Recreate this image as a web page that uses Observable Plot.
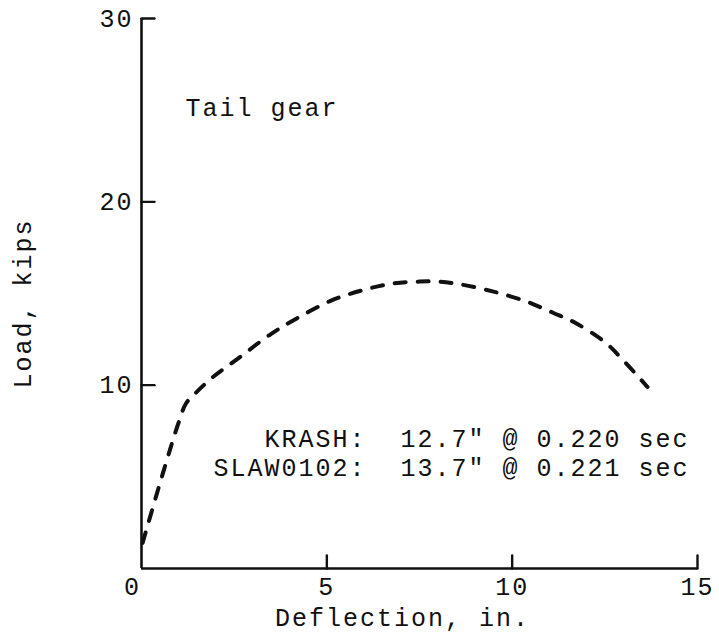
<!DOCTYPE html>
<html>
<head>
<meta charset="utf-8">
<script src="https://cdn.jsdelivr.net/npm/d3@7"></script>
<script src="https://cdn.jsdelivr.net/npm/@observablehq/plot@0.6"></script>
<style>
  html, body { margin: 0; padding: 0; background: #fff; }
  svg text { white-space: pre; }
</style>
</head>
<body>
<div id="chart"></div>
<script>
// Curve (deflection in inches, load in kips)
const deflection = [0.03, 0.6, 1.0, 1.2, 1.45, 1.9, 2.6, 3.5, 4.2, 5.1, 6.0, 6.8, 7.5, 8.0, 8.6, 9.5, 10.4, 11.1, 11.7, 12.5, 13.0, 13.65];
const load       = [1.4, 5.35, 7.95, 9.0, 9.55, 10.4, 11.45, 12.8, 13.65, 14.6, 15.2, 15.55, 15.65, 15.65, 15.5, 15.1, 14.55, 13.95, 13.4, 12.35, 11.35, 9.9];

const xTicks = [5, 10, 15];
const xZeroTick = [0];
const yTicks = [10, 20, 30];
const xDomain = [0, 15];
const yDomain = [0, 30];

const xLabel = "Deflection, in.";
const yLabel = "Load, kips";
const panelTitle = "Tail gear";
const noteLines = ["KRASH:  12.7\" @ 0.220 sec", "SLAW0102:  13.7\" @ 0.221 sec"];

const data = deflection.map((d, i) => ({x: d, y: load[i]}));
const font = "'Liberation Mono', 'Courier New', monospace";

// straight tick stroke drawn from the anchor along the vector direction
const tickShape = {draw(context, l) { context.moveTo(0, 0); context.lineTo(0, -l); }};

const chart = Plot.plot({
  width: 719,
  height: 638,
  marginLeft: 141,
  marginRight: 22,
  marginTop: 18,
  marginBottom: 70,
  style: {fontFamily: font, color: "#111", background: "#fff", letterSpacing: "2px"},
  x: {domain: xDomain},
  y: {domain: yDomain},
  marks: [
    Plot.ruleX([0], {stroke: "#111", strokeWidth: 2.6}),
    Plot.ruleY([0], {stroke: "#111", strokeWidth: 2.6}),
    // inward-pointing ticks
    Plot.vector(yTicks, {y: d => d, frameAnchor: "left", rotate: 90, length: 13, anchor: "start", shape: tickShape, stroke: "#111", strokeWidth: 2.4}),
    Plot.vector(xTicks, {x: d => d, frameAnchor: "bottom", rotate: 0, length: 13, anchor: "start", shape: tickShape, stroke: "#111", strokeWidth: 2.4}),
    Plot.axisY(yTicks, {anchor: "left", tickSize: 0, tickPadding: 8, fontSize: 25, label: null}),
    Plot.axisX(xTicks, {anchor: "bottom", tickSize: 0, tickPadding: 9, fontSize: 25, label: null}),
    Plot.axisX(xZeroTick, {anchor: "bottom", tickSize: 0, tickPadding: 9, dx: -9, fontSize: 25, label: null}),
    Plot.line(data, {x: "x", y: "y", stroke: "#111", strokeWidth: 4, strokeDasharray: "11,12", strokeLinecap: "round", curve: "catmull-rom"}),
    Plot.text([panelTitle], {text: d => d, frameAnchor: "top-left", textAnchor: "start", lineAnchor: "bottom", dx: 44, dy: 97, fontSize: 25, fill: "#111"}),
    Plot.text([noteLines.join("\n")], {text: d => d, frameAnchor: "top-right", textAnchor: "end", lineAnchor: "bottom", lineHeight: 1.13, dx: -8, dy: 457, fontSize: 25, fill: "#111"}),
    Plot.text([yLabel], {text: d => d, frameAnchor: "left", rotate: -90, textAnchor: "middle", lineAnchor: "middle", dx: -119, dy: 10, fontSize: 25, fill: "#111", letterSpacing: "1px"}),
    Plot.text([xLabel], {text: d => d, frameAnchor: "bottom", textAnchor: "middle", lineAnchor: "bottom", dx: -17, dy: 57, fontSize: 25, fill: "#111"})
  ]
});
document.getElementById("chart").appendChild(chart);
</script>
</body>
</html>
